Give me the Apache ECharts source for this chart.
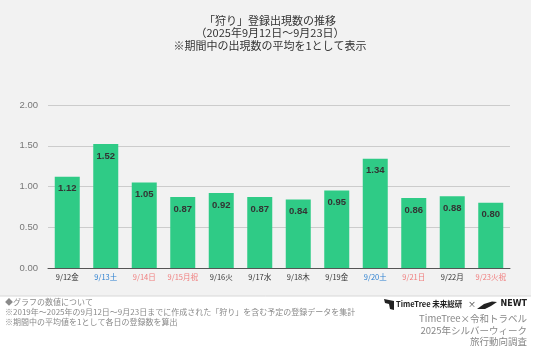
<!DOCTYPE html>
<html>
<head>
<meta charset="utf-8">
<script src="https://cdn.jsdelivr.net/npm/echarts@6/dist/echarts.min.js"></script>
<style>
html, body { margin: 0; padding: 0; background: #fff; }
#graphContainer { width: 536px; height: 354px; }
</style>
</head>
<body>
<div id="graphContainer"></div>
<script>
var categories = ['9/12金', '9/13土', '9/14日', '9/15月祝', '9/16火', '9/17水', '9/18木', '9/19金', '9/20土', '9/21日', '9/22月', '9/23火祝'];
var dayKind = ['w', 's', 'h', 'h', 'w', 'w', 'w', 'w', 's', 'h', 'w', 'h'];
var values = [1.12, 1.52, 1.05, 0.87, 0.92, 0.87, 0.84, 0.95, 1.34, 0.86, 0.88, 0.80];
var yTicks = [0, 0.5, 1, 1.5, 2];

var titleLines = ['「狩り」登録出現数の推移', '（2025年9月12日～9月23日）', '※期間中の出現数の平均を1として表示'];
var noteLines = ['◆グラフの数値について', '※2019年～2025年の9月12日～9月23日までに作成された「狩り」を含む予定の登録データを集計', '※期間中の平均値を1として各日の登録数を算出'];
var creditLines = ['TimeTree×令和トラベル', '2025年シルバーウィーク', '旅行動向調査'];

var kindColor = { w: '#333333', s: '#2b7fd0', h: '#f07c7c' };

var dom = document.getElementById('graphContainer');
var myEChart = echarts.init(dom, null, { renderer: 'canvas' });

var graphics = [
	{ type: 'rect', shape: { x: 0, y: 0, width: 531, height: 296 }, style: { fill: '#f2f2f2' }, z: -10 },
	{ type: 'line', shape: { x1: 0, y1: 296, x2: 531, y2: 296 }, style: { stroke: '#d8d8d8', lineWidth: 1 }, z: -9 }
];
titleLines.forEach(function (t, i) {
	graphics.push({ type: 'text', x: 270, y: 15 + i * 12.5, style: { text: t, fill: '#333', font: '11px "Noto Sans CJK JP"', textAlign: 'center' } });
});
noteLines.forEach(function (t, i) {
	graphics.push({ type: 'text', x: 5, y: 298 + i * 10, style: { text: t, fill: '#8a8a8a', font: '8px "Noto Sans CJK JP"', textAlign: 'left' } });
});
creditLines.forEach(function (t, i) {
	graphics.push({ type: 'text', x: 527, y: 314 + i * 11.5, style: { text: t, fill: '#888', font: '9.5px "Noto Sans CJK JP"', textAlign: 'right' } });
});
// logo row
graphics.push({ type: 'text', x: 396, y: 300, style: { text: 'TimeTree 未来総研', fill: '#222', font: 'bold 7.5px "Noto Sans CJK JP"', textAlign: 'left' } });
graphics.push({ type: 'text', x: 472, y: 300, style: { text: '×', fill: '#333', font: '8px "Noto Sans CJK JP"', textAlign: 'center' } });
graphics.push({ type: 'text', x: 527, y: 300, style: { text: 'NEWT', fill: '#222', font: 'bold 8px "DejaVu Sans"', textAlign: 'right' } });
graphics.push({ type: 'polygon', shape: { points: [[477, 309], [484, 304], [492, 301.5], [497, 302], [491, 306], [485, 309]] }, style: { fill: '#222' } });
graphics.push({ type: 'polygon', shape: { points: [[384, 299], [394, 301], [394, 310], [390, 309], [389, 304], [385, 303]] }, style: { fill: '#222' } });

var option = {
	animation: false,
	grid: { left: 48, right: 26, top: 105, bottom: 86 },
	graphic: graphics,
	xAxis: {
		type: 'category',
		data: categories.map(function (c, i) { return { value: c, textStyle: { color: kindColor[dayKind[i]] } }; }),
		axisLine: { lineStyle: { color: '#555', width: 1 } },
		axisTick: { show: false },
		axisLabel: { fontSize: 7.5, margin: 5, interval: 0, fontFamily: 'Noto Sans CJK JP' }
	},
	yAxis: {
		type: 'value',
		min: yTicks[0],
		max: yTicks[yTicks.length - 1],
		interval: 0.5,
		axisLabel: { color: '#777', fontSize: 9.5, margin: 10, formatter: function (v) { return v.toFixed(2); } },
		splitLine: { lineStyle: { color: '#cccccc' } },
		axisLine: { show: false },
		axisTick: { show: false }
	},
	series: [{
		type: 'bar',
		data: values,
		barWidth: 25,
		itemStyle: { color: '#2fcb86' },
		label: {
			show: true,
			position: 'insideTop',
			distance: 7,
			color: '#333',
			fontWeight: 'bold',
			fontSize: 9.5,
			formatter: function (p) { return p.value.toFixed(2); }
		}
	}]
};
myEChart.setOption(option);
</script>
</body>
</html>
